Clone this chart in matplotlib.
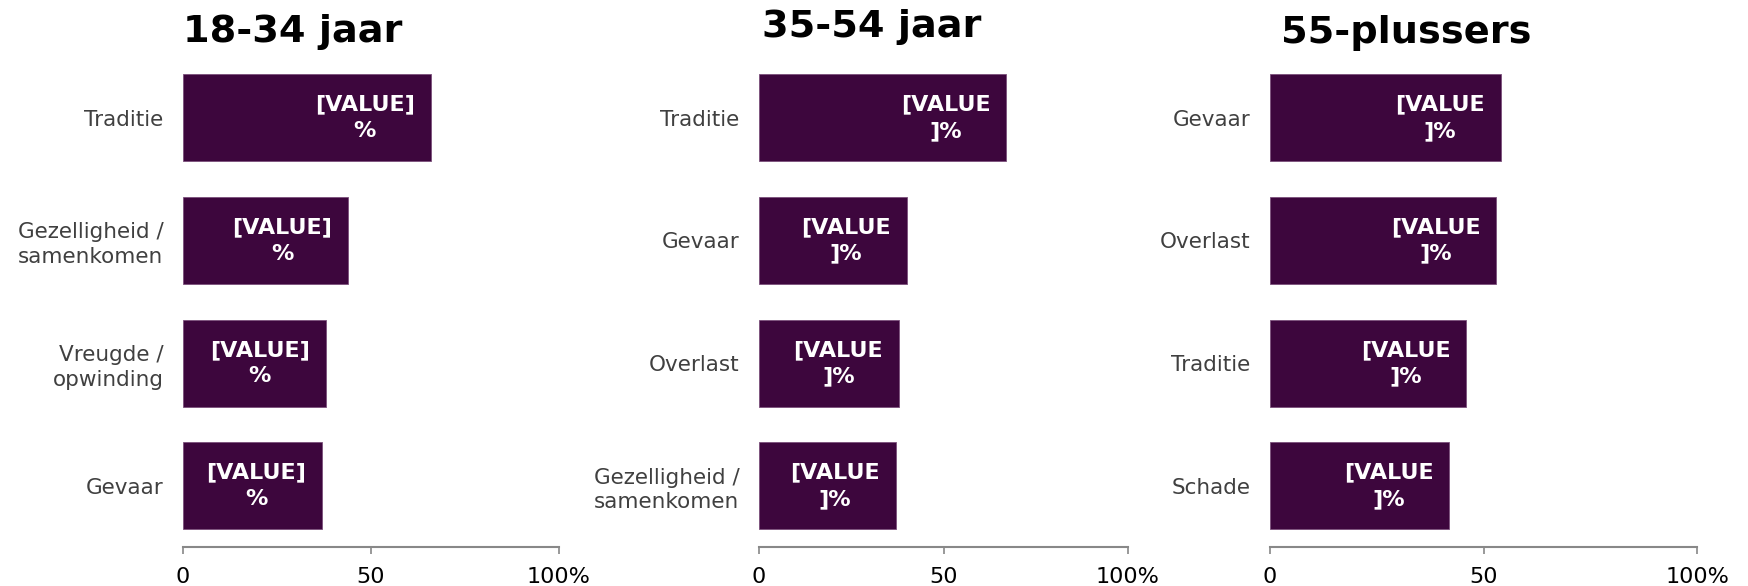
#!/usr/bin/env python3
# Redenen per leeftijdsgroep: drie horizontale staafdiagrammen naast elkaar.
import matplotlib
matplotlib.use("Agg")
import matplotlib.pyplot as plt

titles = ["18-34 jaar", "35-54 jaar", "55-plussers"]

cats_young = ["Traditie", "Gezelligheid /\nsamenkomen", "Vreugde /\nopwinding", "Gevaar"]
vals_young = [66, 44, 38, 37]

cats_mid = ["Traditie", "Gevaar", "Overlast", "Gezelligheid /\nsamenkomen"]
vals_mid = [67, 40, 38, 37]

cats_old = ["Gevaar", "Overlast", "Traditie", "Schade"]
vals_old = [54, 53, 46, 42]

bar_labels = ["[VALUE]\n%", "[VALUE\n]%", "[VALUE\n]%"]
xticks = [0, 50, 100]
xticklabels = ["0", "50", "100%"]

BAR = "#3d063d"
W, H = 1748, 586

fig = plt.figure(figsize=(W / 100, H / 100), dpi=100)

# axes placement in pixels: (left, right) of the 0..100 range
spans = [(183, 558.5), (759, 1128), (1270, 1697)]
title_dx = [0, 2, 8]        # points
title_dy = [18, 21, 17]     # points above axes top
ax_bottom = (H - 547) / H
ax_height = 490.4 / H

panels = [(cats_young, vals_young), (cats_mid, vals_mid), (cats_old, vals_old)]

for i, (cats, vals) in enumerate(panels):
    x0, x1 = spans[i]
    ax = fig.add_axes([x0 / W, ax_bottom, (x1 - x0) / W, ax_height])
    y = range(len(cats))
    bars = ax.barh(y, vals, height=0.71, color=BAR, edgecolor="#7b4f7b", linewidth=0.6)
    ax.set_xlim(0, 100)
    ax.set_ylim(3.5, -0.5)

    ax.set_yticks(list(y))
    ax.set_yticklabels(cats, fontsize=15.5, color="#404040", linespacing=1.3)
    ax.tick_params(axis="y", length=0, pad=14)

    ax.set_xticks(xticks)
    ax.set_xticklabels(xticklabels, fontsize=16, color="black")
    ax.tick_params(axis="x", direction="out", length=5, width=1.2, color="#888888", pad=9.5)

    for side in ["top", "right", "left"]:
        ax.spines[side].set_visible(False)
    ax.spines["bottom"].set_color("#888888")
    ax.spines["bottom"].set_linewidth(1.5)

    for b, v in zip(bars, vals):
        ax.annotate(bar_labels[i], xy=(v, b.get_y() + b.get_height() / 2),
                    xytext=(-11.5, 0), textcoords="offset points",
                    ha="right", va="center", multialignment="center",
                    color="white", fontsize=16, fontweight="bold", linespacing=1.4)

    ax.annotate(titles[i], xy=(0, 1), xycoords="axes fraction",
                xytext=(title_dx[i], title_dy[i]), textcoords="offset points",
                ha="left", va="center", fontsize=27.5, fontweight="bold", color="black")

fig.savefig("out.png", dpi=100)
